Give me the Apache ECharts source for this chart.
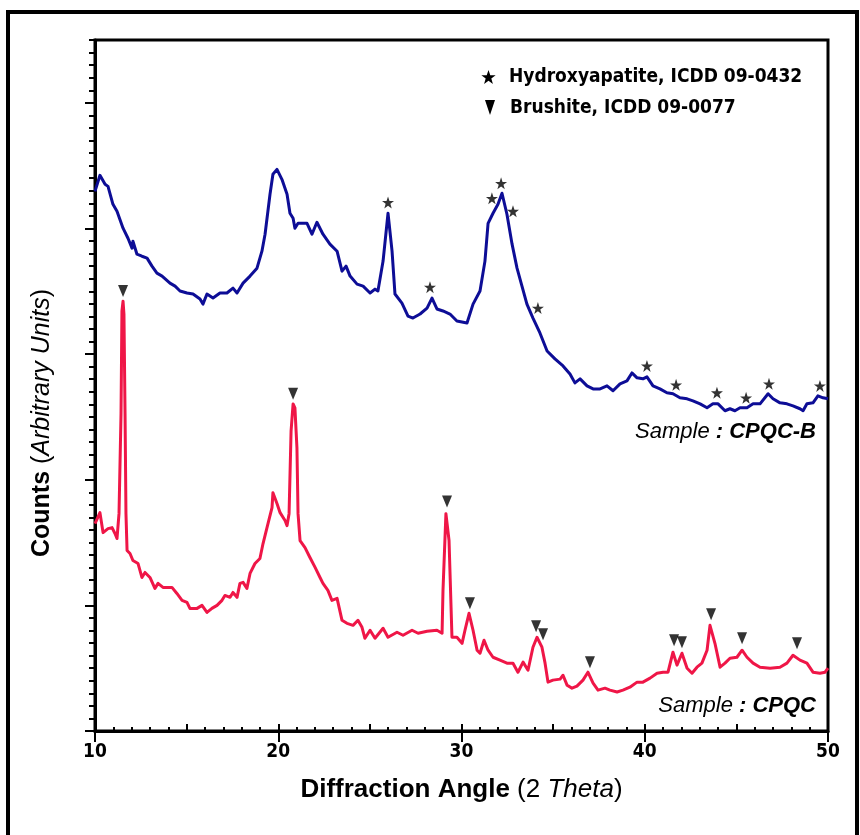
<!DOCTYPE html>
<html>
<head>
<meta charset="utf-8">
<script src="https://cdn.jsdelivr.net/npm/echarts@6/dist/echarts.min.js"></script>
<style>
  html, body { margin: 0; padding: 0; background: #ffffff; }
  #chart { width: 860px; height: 835px; }
</style>
</head>
<body>
<div id="chart"></div>
<script>
// ---- Data ----
// Sample CPQC-B (blue curve)
const bTheta = [10.00,10.27,10.55,10.71,10.98,11.20,11.53,11.80,12.02,12.07,
  12.29,12.56,12.84,13.11,13.38,13.66,14.09,14.37,14.64,15.02,
  15.35,15.73,15.89,16.11,16.44,16.82,17.20,17.53,17.75,18.08,
  18.46,18.84,19.11,19.28,19.55,19.71,19.93,20.20,20.48,20.64,
  20.81,20.91,21.08,21.57,21.84,22.11,22.44,22.82,23.21,23.48,
  23.70,23.92,24.30,24.63,25.01,25.28,25.44,25.72,25.99,26.21,
  26.37,26.75,27.08,27.35,27.74,28.12,28.39,28.66,28.99,29.37,
  29.75,30.30,30.63,31.01,31.28,31.45,31.72,31.99,32.21,32.48,
  32.76,33.03,33.30,33.57,33.90,34.28,34.67,35.10,35.54,35.92,
  36.19,36.47,36.85,37.18,37.56,37.94,38.27,38.65,39.03,39.30,
  39.58,39.90,40.12,40.45,40.83,41.21,41.54,41.92,42.31,42.63,
  43.02,43.40,43.72,44.00,44.38,44.65,44.92,45.20,45.58,45.91,
  46.29,46.73,47.00,47.38,47.76,48.09,48.47,48.64,48.85,49.18,
  49.45,49.73,50.00];
const bCounts = [4295,4423,4351,4335,4192,4137,4002,3922,3843,3898,
  3795,3779,3764,3700,3644,3621,3565,3541,3502,3486,
  3478,3438,3398,3478,3446,3486,3486,3525,3486,3565,
  3621,3684,3819,3954,4272,4431,4470,4391,4272,4121,
  4081,4002,4041,4041,3954,4049,3954,3875,3819,3660,
  3700,3621,3557,3541,3486,3517,3502,3740,4121,3819,
  3478,3406,3303,3287,3319,3366,3446,3359,3343,3319,
  3263,3247,3398,3502,3740,4041,4121,4192,4280,4113,
  3875,3684,3541,3398,3287,3168,3025,2962,2906,2842,
  2771,2803,2747,2723,2723,2747,2708,2763,2787,2850,
  2811,2803,2819,2747,2723,2692,2684,2652,2644,2628,
  2604,2573,2604,2604,2549,2565,2549,2573,2573,2604,
  2604,2684,2644,2612,2604,2588,2565,2549,2604,2612,
  2668,2652,2644];

// Sample CPQC (red curve)
const cTheta = [10.00,10.27,10.44,10.71,10.93,11.09,11.20,11.31,11.42,11.47,
  11.53,11.58,11.64,11.69,11.75,11.91,12.07,12.35,12.56,12.73,
  13.00,13.27,13.44,13.71,14.20,14.47,14.75,15.02,15.18,15.57,
  15.84,16.11,16.38,16.66,16.93,17.09,17.37,17.53,17.75,17.91,
  18.08,18.29,18.46,18.73,19.00,19.17,19.44,19.66,19.71,19.93,
  20.10,20.37,20.48,20.59,20.70,20.81,20.91,21.02,21.08,21.19,
  21.46,21.73,22.01,22.28,22.44,22.71,22.93,23.21,23.48,23.75,
  24.08,24.35,24.57,24.73,25.01,25.28,25.72,25.99,26.48,26.81,
  27.30,27.63,28.12,28.66,28.94,28.99,29.15,29.21,29.32,29.48,
  29.75,30.03,30.19,30.41,30.63,30.85,31.01,31.23,31.45,31.72,
  32.10,32.48,32.81,33.08,33.36,33.63,33.90,34.12,34.39,34.56,
  34.72,34.99,35.38,35.54,35.76,36.03,36.30,36.63,36.90,37.18,
  37.45,37.83,38.10,38.49,38.81,39.19,39.58,39.90,40.29,40.67,
  41.00,41.27,41.54,41.76,42.03,42.31,42.58,42.85,43.12,43.40,
  43.56,43.83,44.11,44.38,44.65,45.03,45.31,45.58,45.91,46.29,
  46.84,47.38,47.76,48.09,48.47,48.85,49.18,49.56,49.84,50.00];
const cCounts = [1651,1738,1579,1611,1619,1572,1532,1730,2524,3341,
  3421,3318,2524,1730,1437,1413,1357,1333,1222,1262,
  1222,1135,1175,1143,1143,1095,1040,1024,976,976,
  1000,944,976,1000,1040,1079,1064,1103,1064,1175,
  1183,1135,1254,1333,1373,1492,1651,1778,1897,1810,
  1738,1675,1635,1730,2389,2603,2572,2254,1730,1516,
  1460,1381,1302,1222,1175,1119,1040,1056,881,857,
  841,881,825,738,802,738,818,746,786,762,
  802,778,794,802,778,1119,1730,1730,1516,746,
  746,698,802,937,802,643,619,722,643,587,
  564,540,540,468,548,484,667,746,667,540,
  389,405,413,444,365,341,357,405,468,381,
  325,341,325,310,325,349,389,389,421,460,
  468,468,627,524,619,500,460,508,540,643,
  841,698,508,540,579,587,643,587,540,508,
  500,508,540,603,564,540,468,460,468,500];

// Peak markers
const haTheta  = [25.99,28.28,31.66,32.16,32.81,34.17,40.12,41.71,43.94,45.53,46.78,49.56];
const haCounts = [4207,3533,4240,4359,4137,3366,2906,2755,2692,2652,2763,2747];
const brTheta  = [11.53,20.81,29.21,30.46,34.07,34.45,37.01,41.60,42.03,43.62,45.31,48.31];
const brCounts = [3502,2684,1826,1016,834,770,548,723,707,929,738,699];

// Axes
const xMin = 10, xMax = 50, xMajor = 10, xMid = 5;
const yMin = 0, yMax = 5500, yMajor = 1000, yMinor = 100;
const yMajorTicks = [0, 1000, 2000, 3000, 4000, 5000];

const legendNames = ['Hydroxyapatite, ICDD 09-0432', 'Brushite, ICDD 09-0077'];
const sampleNames = ['CPQC-B', 'CPQC'];

// ---- Build ----
const zip = (a, b) => a.map((v, i) => [v, b[i]]);
const FONT = "'Liberation Sans', Arial, Helvetica, sans-serif";
const NARROW = "'Liberation Sans Narrow', 'Arial Narrow', 'DejaVu Sans Condensed', 'Liberation Sans', sans-serif";
const BLUE = '#0d0d96';
const RED = '#ef1647';
const STAR_PTS = [[50,0],[61.8,34.5],[97.6,34.5],[68.8,56],[79.4,90.5],[50,69.5],[20.6,90.5],[31.2,56],[2.4,34.5],[38.2,34.5]];
const TRI_PTS = [[0,0],[10,0],[5,13]];
const toPath = pts => 'path://M' + pts.map(p => p[0] + ',' + p[1]).join(' L') + ' Z';
const place = (pts, x, y, w, h, bw, bh) => pts.map(p => [x + p[0] / bw * w, y + p[1] / bh * h]);

const chart = echarts.init(document.getElementById('chart'), null, { renderer: 'canvas' });

const option = {
  animation: false,
  backgroundColor: '#ffffff',
  grid: { left: 95, right: 32, top: 40, bottom: 104, show: true, borderColor: '#000', borderWidth: 3, backgroundColor: 'transparent' },
  xAxis: [
    {
      type: 'value', min: xMin, max: xMax, interval: xMajor,
      axisLine: { lineStyle: { color: '#000', width: 3 } },
      axisTick: { length: 11, lineStyle: { color: '#000', width: 2 } },
      axisLabel: { color: '#000', fontFamily: NARROW, fontWeight: 'bold', fontSize: 19, margin: 12 },
      splitLine: { show: false },
      name: '{b|Diffraction Angle}{n| (2 }{i|Theta}{n|)}',
      nameLocation: 'middle', nameGap: 46,
      nameTextStyle: {
        color: '#000', fontFamily: FONT, fontSize: 26,
        rich: {
          b: { fontFamily: FONT, fontSize: 26, fontWeight: 'bold', color: '#000' },
          n: { fontFamily: FONT, fontSize: 26, color: '#000' },
          i: { fontFamily: FONT, fontSize: 26, fontStyle: 'italic', color: '#000' }
        }
      }
    },
    {
      type: 'value', min: xMin, max: xMax, interval: xMid,
      axisLine: { show: false },
      axisTick: { length: 7, lineStyle: { color: '#000', width: 2 } },
      minorTick: { show: true, splitNumber: 5, length: 4, lineStyle: { color: '#000', width: 2 } },
      axisLabel: { show: false },
      splitLine: { show: false }
    }
  ],
  yAxis: [
    {
      type: 'value', min: yMin, max: yMax, interval: yMinor,
      axisLine: { lineStyle: { color: '#000', width: 3 } },
      axisTick: { length: 6, lineStyle: { color: '#000', width: 2 } },
      axisLabel: { show: false },
      splitLine: { show: false }
    },
    {
      type: 'value', min: yMin, max: yMax, interval: yMajor, position: 'left',
      axisLine: { show: false },
      axisTick: { length: 10, lineStyle: { color: '#000', width: 2 }, customValues: yMajorTicks },
      axisLabel: { show: false },
      splitLine: { show: false }
    }
  ],
  series: [
    {
      type: 'line', name: sampleNames[0], data: zip(bTheta, bCounts),
      showSymbol: false, symbol: 'none', z: 3,
      lineStyle: { color: BLUE, width: 3, join: 'round' }, itemStyle: { color: BLUE }
    },
    {
      type: 'line', name: sampleNames[1], data: zip(cTheta, cCounts),
      showSymbol: false, symbol: 'none', z: 3,
      lineStyle: { color: RED, width: 3, join: 'round' }, itemStyle: { color: RED }
    },
    {
      type: 'scatter', name: legendNames[0], data: zip(haTheta, haCounts),
      symbol: toPath(STAR_PTS), symbolSize: 12, z: 4,
      itemStyle: { color: '#000' }
    },
    {
      type: 'scatter', name: legendNames[1], data: zip(brTheta, brCounts),
      symbol: toPath(TRI_PTS), symbolSize: [10, 12], z: 4,
      itemStyle: { color: '#000' }
    }
  ],
  graphic: [
    // outer frame
    { type: 'rect', z: 0, shape: { x: 8, y: 12, width: 849, height: 840 }, style: { fill: 'none', stroke: '#000', lineWidth: 4 } },
    // legend
    { type: 'polygon', z: 10, shape: { points: place(STAR_PTS, 481, 70, 15, 14, 100, 91) }, style: { fill: '#000' } },
    { type: 'text', z: 10, x: 509, y: 77, style: { text: legendNames[0], fill: '#000', font: 'bold 19px ' + NARROW, verticalAlign: 'middle', align: 'left' } },
    { type: 'polygon', z: 10, shape: { points: place(TRI_PTS, 485, 100, 10, 15, 10, 13) }, style: { fill: '#000' } },
    { type: 'text', z: 10, x: 510, y: 108, style: { text: legendNames[1], fill: '#000', font: 'bold 19px ' + NARROW, verticalAlign: 'middle', align: 'left' } },
    // sample labels
    { type: 'text', z: 10, x: 816, y: 432, style: {
        text: '{i|Sample }{b|: ' + sampleNames[0] + '}', align: 'right', verticalAlign: 'middle',
        rich: { i: { fontFamily: FONT, fontSize: 22, fontStyle: 'italic', fill: '#000' },
                b: { fontFamily: FONT, fontSize: 22, fontStyle: 'italic', fontWeight: 'bold', fill: '#000' } } } },
    { type: 'text', z: 10, x: 816, y: 706, style: {
        text: '{i|Sample }{b|: ' + sampleNames[1] + '}', align: 'right', verticalAlign: 'middle',
        rich: { i: { fontFamily: FONT, fontSize: 22, fontStyle: 'italic', fill: '#000' },
                b: { fontFamily: FONT, fontSize: 22, fontStyle: 'italic', fontWeight: 'bold', fill: '#000' } } } },
    // y axis title
    { type: 'text', z: 10, x: 42, y: 423, rotation: Math.PI / 2, style: {
        text: '{b|Counts}{n| (}{i|Arbitrary Units}{n|)}', align: 'center', verticalAlign: 'middle',
        rich: { b: { fontFamily: FONT, fontSize: 25, fontWeight: 'bold', fill: '#000' },
                n: { fontFamily: FONT, fontSize: 25, fill: '#000' },
                i: { fontFamily: FONT, fontSize: 25, fontStyle: 'italic', fill: '#000' } } } }
  ]
};
chart.setOption(option);
</script>
</body>
</html>
